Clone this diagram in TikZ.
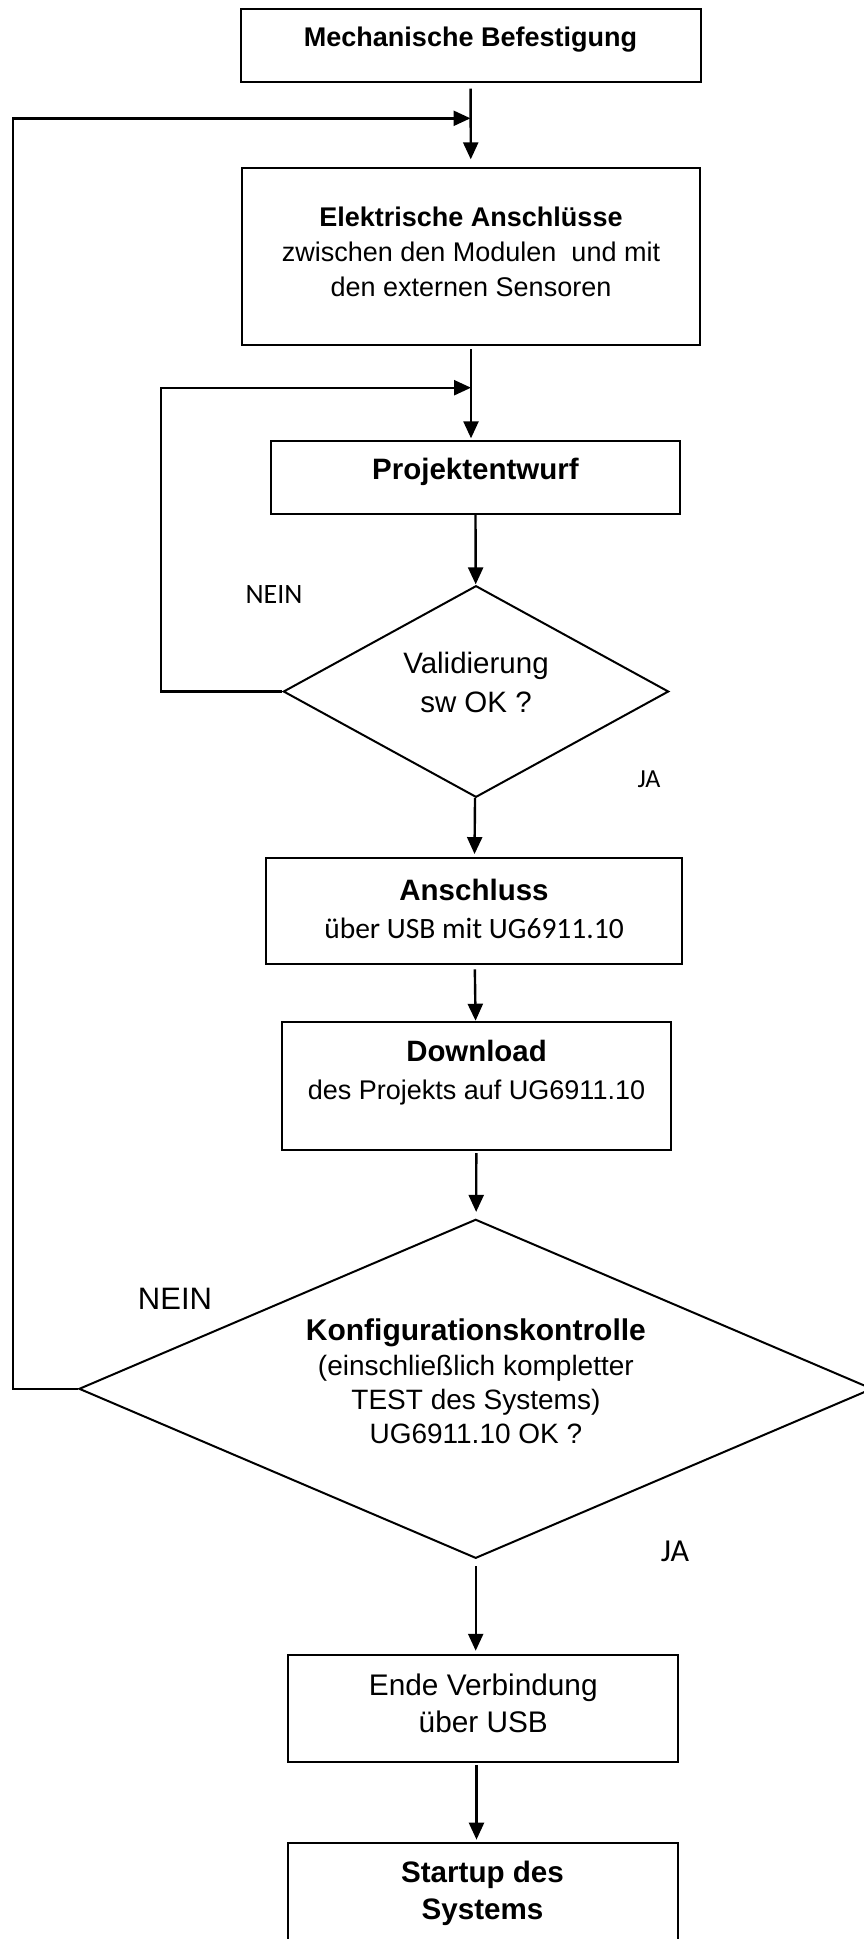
\documentclass[tikz,border=0pt]{standalone}
\usepackage{fontspec}
\setmainfont{Liberation Sans}
\newfontfamily\calfont{Carlito}
\usetikzlibrary{positioning, shapes.geometric, arrows.meta}

\begin{document}
\begin{tikzpicture}[x=1pt, y=-1pt,
    box/.style={draw, line width=2pt, inner sep=0pt},
    decision/.style={draw, diamond, line width=2pt, inner sep=0pt},
    txt/.style={align=center, inner sep=0pt},
    flow/.style={line width=2.4pt, -{Triangle[length=17pt,width=15pt]}}]

  \useasboundingbox (0,0) rectangle (863,1939);

  \node[box, minimum width=460pt, minimum height=73pt] (mech) at (470.5,45.4) {};
  \node[box, minimum width=458pt, minimum height=176.7pt] (elek) at (471,256.7) {};
  \node[box, minimum width=409.2pt, minimum height=73pt] (proj) at (475.4,477.5) {};
  \node[decision, minimum width=385.3pt, minimum height=211.6pt] (diam1) at (476,691.5) {};
  \node[box, minimum width=416.6pt, minimum height=106.3pt] (ansch) at (474,910.9) {};
  \node[box, minimum width=389pt, minimum height=127.7pt] (down) at (476.5,1086.2) {};
  \node[decision, minimum width=793.4pt, minimum height=339pt] (diam2) at (475.7,1388.8) {};
  \node[box, minimum width=389.4pt, minimum height=106.7pt] (ende) at (483,1708.4) {};
  \node[box, minimum width=389.7pt, minimum height=106.7pt] (startup) at (483,1896.6) {};

  \node[txt, font=\bfseries\fontsize{27}{35}\selectfont] (mech-t) at (470.5,39.3) {Mechanische Befestigung};
  \node[txt, font=\fontsize{27}{35}\selectfont] (elek-t) at (471,251.7)
    {\textbf{Elektrische Anschlüsse}\\zwischen den Modulen\ \ und mit\\den externen Sensoren};
  \node[txt, font=\bfseries\fontsize{29.5}{38}\selectfont] (proj-t) at (475.4,471.7) {Projektentwurf};
  \node[txt, font=\fontsize{29.5}{38.7}\selectfont] (diam1-t) at (476,682.4) {Validierung\\sw OK ?};
  \node[txt, font=\fontsize{29.5}{38.3}\selectfont] (ansch-t) at (474,909.2)
    {\textbf{Anschluss}\\{\calfont über USB mit UG6911.10}};
  \node[txt, font=\fontsize{29.4}{38.4}\selectfont] (down-t) at (476.5,1072.5)
    {\textbf{Download}\\{\fontsize{27}{38.4}\selectfont des Projekts auf UG6911.10}};
  \node[txt, font=\fontsize{28}{34.3}\selectfont] (diam2-t) at (475.9,1381.5)
    {{\bfseries\fontsize{30}{34.3}\selectfont Konfigurationskontrolle}\\(einschließlich kompletter\\TEST des Systems)\\UG6911.10 OK ?};
  \node[txt, font=\fontsize{29.8}{36.7}\selectfont] (ende-t) at (483.3,1703.4) {Ende Verbindung\\über USB};
  \node[txt, font=\bfseries\fontsize{29.6}{36.7}\selectfont] (startup-t) at (482.5,1893.4) {Startup des\\Systems};

  \node[txt, font=\calfont\fontsize{28}{28}\selectfont] (nein1) at (274,595) {NEIN};
  \node[txt, font=\calfont\fontsize{26}{26}\selectfont] (ja1) at (649,779) {JA};
  \node[txt, font=\fontsize{31}{31}\selectfont] (nein2) at (175,1299) {NEIN};
  \node[txt, font=\calfont\fontsize{32}{32}\selectfont] (ja2) at (675,1551) {JA};

  \coordinate (ret1) at (12.7,118.3);
  \coordinate (merge1) at (470.5,118.3);
  \coordinate (ret2) at (161,387.7);
  \coordinate (merge2) at (471,387.7);

  \path[flow]
    (mech) edge[shorten <=5.6pt, shorten >=8pt] (elek)
    (elek.south) edge[shorten <=3.3pt, shorten >=1.7pt] (elek.south |- proj.north)
    (proj) edge[shorten >=0.5pt] (diam1)
    (diam1) edge[shorten >=2.7pt] (ansch)
    (ansch) edge[shorten <=4.3pt, shorten >=0.6pt] (down)
    (down) edge[shorten <=2pt, shorten >=6.6pt] (diam2)
    (diam2.south) edge[shorten <=6.7pt, shorten >=3.3pt] (diam2.south |- ende.north)
    (ende.south -| down.south) edge[shorten <=2.3pt, shorten >=2.6pt] (down.south |- startup.north);

  \draw[flow] (diam2.west) -| (ret1) -- (merge1);
  \draw[flow] (diam1.west) -| (ret2) -- (merge2);
\end{tikzpicture}
\end{document}
